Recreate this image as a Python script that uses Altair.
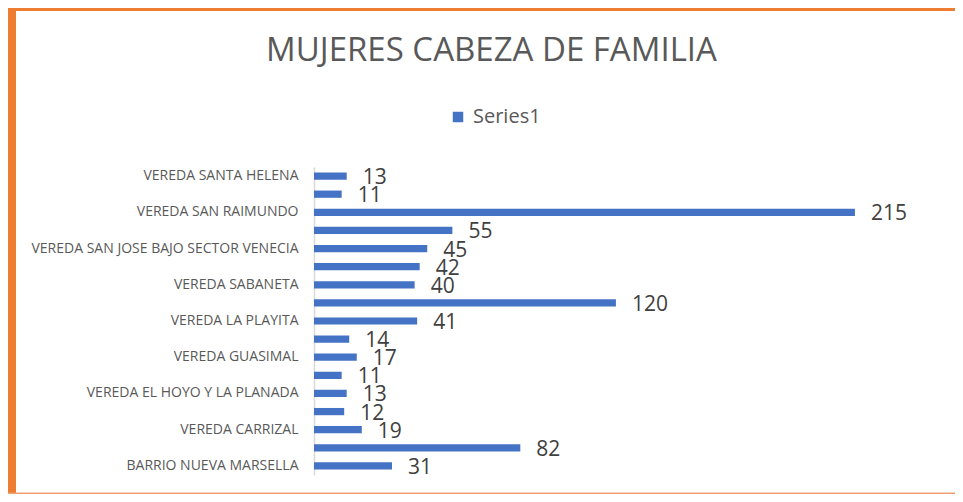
import json
import altair as alt
import pandas as pd

# ---- data (top to bottom as shown) ----
labels = [
    "VEREDA SANTA HELENA", "", "VEREDA SAN RAIMUNDO", "",
    "VEREDA SAN JOSE BAJO SECTOR VENECIA", "", "VEREDA SABANETA", "",
    "VEREDA LA PLAYITA", "", "VEREDA GUASIMAL", "",
    "VEREDA EL HOYO Y LA PLANADA", "", "VEREDA CARRIZAL", "",
    "BARRIO NUEVA MARSELLA",
]
values = [13, 11, 215, 55, 45, 42, 40, 120, 41, 14, 17, 11, 13, 12, 19, 82, 31]
series_name = "Series1"
title_text = "MUJERES CABEZA DE FAMILIA"

df = pd.DataFrame({
    "idx": list(range(len(values))),
    "value": values,
    "series": [series_name] * len(values),
})

label_expr = "[" + ",".join(json.dumps(l) for l in labels) + "][datum.value]"

FONT = "Open Sans"
W, H = 629, 308
PL, PT, PR, PB = 306, 159, 12, 19
ORANGE = "#ED7D31"

y_enc = alt.Y(
    "idx:O", sort=None,
    scale=alt.Scale(paddingInner=0.6, paddingOuter=0.3),
    axis=alt.Axis(
        title=None, labelExpr=label_expr, ticks=False,
        domainColor="#D9D9D9", domainWidth=1.5, labelPadding=16,
        labelFontSize=14, labelColor="#595959", labelFont=FONT,
        labelLimit=0,
    ),
)
x_enc = alt.X("value:Q", scale=alt.Scale(domain=[0, 250]), axis=None)

base = alt.Chart(df)

bars = base.mark_bar().encode(
    y=y_enc, x=x_enc,
    color=alt.Color(
        "series:N", scale=alt.Scale(range=["#4472C4"]),
        legend=alt.Legend(
            title=None, orient="none", legendX=134, legendY=-60,
            symbolType="square", symbolSize=110, symbolStrokeWidth=0,
            labelFontSize=20, labelColor="#595959", labelFont=FONT,
            padding=0, labelOffset=5,
        ),
    ),
)

texts = base.mark_text(
    align="left", baseline="middle", dx=16, dy=2,
    fontSize=21, color="#404040", font=FONT,
).encode(y=y_enc, x=x_enc, text="value:Q")

deco_df = pd.DataFrame({"k": [0]})
deco = alt.Chart(deco_df)
left_band = deco.mark_rect(color=ORANGE).encode(
    x=alt.value(-PL), x2=alt.value(-PL + 8),
    y=alt.value(-PT), y2=alt.value(H + PB),
)
top_band = deco.mark_rect(color=ORANGE).encode(
    x=alt.value(-PL), x2=alt.value(W + PR),
    y=alt.value(-PT), y2=alt.value(-PT + 3),
)
bottom_line = deco.mark_rect(color="#F0A070").encode(
    x=alt.value(-PL), x2=alt.value(W + PR),
    y=alt.value(H + PB - 1.5), y2=alt.value(H + PB),
)

chart = alt.layer(bars, texts, left_band, top_band, bottom_line).properties(
    width=W, height=H,
    padding={"left": PL, "top": PT, "right": PR, "bottom": PB},
    autosize=alt.AutoSizeParams(type="none"),
    background="white",
    title=alt.TitleParams(
        title_text, fontSize=33, font=FONT, color="#595959",
        fontWeight="normal", anchor="middle", frame="group",
        dx=-137, offset=-86, baseline="alphabetic",
    ),
).configure_view(stroke=None)

chart.save("out.html", embed_options={"renderer": "svg", "actions": False})
